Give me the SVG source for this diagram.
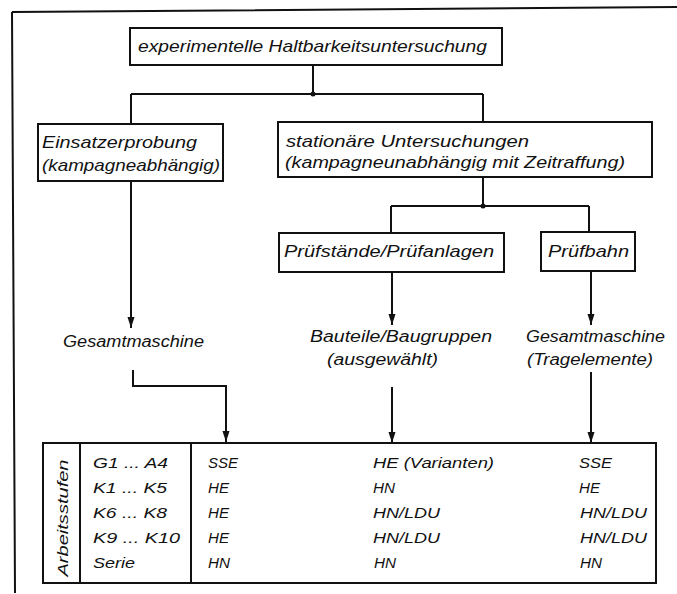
<svg xmlns="http://www.w3.org/2000/svg" width="677" height="594" viewBox="0 0 677 594">
<defs>
<style>
.t{font-family:"Liberation Sans","DejaVu Sans",sans-serif;font-style:italic;fill:#111;}
.b{font-size:17px;}
.m{font-size:16px;}
.s{font-size:15px;}
.box{fill:#fff;stroke:#111;stroke-width:2;}
.ln{fill:none;stroke:#111;stroke-width:2;}
.arr{marker-end:url(#ah);}
</style>
<marker id="ah" markerUnits="userSpaceOnUse" markerWidth="12" markerHeight="8" refX="11" refY="3.5" orient="auto">
<path d="M0,0 L11,3.5 L0,7 z" fill="#111"/>
</marker>
</defs>
<rect width="677" height="594" fill="#fff"/>
<g id="frame">
<path class="ln" d="M12,12 L677,7 M12,12 L15,593"/>
</g>
<g id="connectors">
<path class="ln" d="M313,65 V94 M131,94 H483 M131,94 V124 M483,94 V122"/>
<circle cx="313" cy="94" r="2.5" fill="#111"/>
<path class="ln arr" d="M131,181 V328"/>
<path class="ln arr" d="M133,370 V386 H226 V442"/>
<path class="ln" d="M483,177 V206 M391,206 H589 M391,206 V233 M589,206 V232"/>
<circle cx="483" cy="206" r="2.5" fill="#111"/>
<path class="ln arr" d="M392,272 V325"/>
<path class="ln arr" d="M591,271 V325"/>
<path class="ln arr" d="M392,387 V443"/>
<path class="ln arr" d="M591,372 V443"/>
</g>
<g id="n-top">
<rect class="box" x="130" y="28" width="372" height="37"/>
<text class="t b" x="138" y="52" textLength="349" lengthAdjust="spacingAndGlyphs">experimentelle Haltbarkeitsuntersuchung</text>
</g>
<g id="n-einsatz">
<rect class="box" x="38" y="124" width="185" height="57"/>
<text class="t b" x="42" y="148" textLength="155" lengthAdjust="spacingAndGlyphs">Einsatzerprobung</text>
<text class="t b" x="42" y="171" textLength="178" lengthAdjust="spacingAndGlyphs">(kampagneabhängig)</text>
</g>
<g id="n-stationaer">
<rect class="box" x="278" y="122" width="374" height="55"/>
<text class="t b" x="286" y="147" textLength="243" lengthAdjust="spacingAndGlyphs">stationäre Untersuchungen</text>
<text class="t b" x="285" y="168" textLength="340" lengthAdjust="spacingAndGlyphs">(kampagneunabhängig mit Zeitraffung)</text>
</g>
<g id="n-pruefstaende">
<rect class="box" x="279" y="233" width="225" height="39"/>
<text class="t b" x="284" y="257" textLength="210" lengthAdjust="spacingAndGlyphs">Prüfstände/Prüfanlagen</text>
</g>
<g id="n-pruefbahn">
<rect class="box" x="541" y="232" width="94" height="39"/>
<text class="t b" x="548" y="257" textLength="81" lengthAdjust="spacingAndGlyphs">Prüfbahn</text>
</g>
<g id="n-gesamt1">
<text class="t m" x="63" y="347" textLength="141" lengthAdjust="spacingAndGlyphs">Gesamtmaschine</text>
</g>
<g id="n-bauteile">
<text class="t m" x="310" y="342" textLength="182" lengthAdjust="spacingAndGlyphs">Bauteile/Baugruppen</text>
<text class="t m" x="327" y="365" textLength="111" lengthAdjust="spacingAndGlyphs">(ausgewählt)</text>
</g>
<g id="n-gesamt2">
<text class="t m" x="526" y="342" textLength="139" lengthAdjust="spacingAndGlyphs">Gesamtmaschine</text>
<text class="t m" x="527" y="365" textLength="126" lengthAdjust="spacingAndGlyphs">(Tragelemente)</text>
</g>
<g id="n-table">
<rect class="box" x="43" y="443" width="613" height="140"/>
<path class="ln" d="M80,443 V583 M191,443 V583"/>
<text class="t s" transform="translate(68,518) rotate(-90)" x="0" y="0" text-anchor="middle" textLength="117" lengthAdjust="spacingAndGlyphs">Arbeitsstufen</text>
<text class="t s" x="93" y="468" textLength="75" lengthAdjust="spacingAndGlyphs">G1 ... A4</text>
<text class="t s" x="93" y="493" textLength="74" lengthAdjust="spacingAndGlyphs">K1 ... K5</text>
<text class="t s" x="93" y="518" textLength="74" lengthAdjust="spacingAndGlyphs">K6 ... K8</text>
<text class="t s" x="93" y="543" textLength="87" lengthAdjust="spacingAndGlyphs">K9 ... K10</text>
<text class="t s" x="93" y="568" textLength="42" lengthAdjust="spacingAndGlyphs">Serie</text>
<text class="t s" x="208" y="468" textLength="30" lengthAdjust="spacingAndGlyphs">SSE</text>
<text class="t s" x="208" y="493" textLength="21" lengthAdjust="spacingAndGlyphs">HE</text>
<text class="t s" x="208" y="518" textLength="21" lengthAdjust="spacingAndGlyphs">HE</text>
<text class="t s" x="208" y="543" textLength="21" lengthAdjust="spacingAndGlyphs">HE</text>
<text class="t s" x="208" y="568" textLength="22" lengthAdjust="spacingAndGlyphs">HN</text>
<text class="t s" x="373" y="468" textLength="121" lengthAdjust="spacingAndGlyphs">HE (Varianten)</text>
<text class="t s" x="373" y="493" textLength="22" lengthAdjust="spacingAndGlyphs">HN</text>
<text class="t s" x="373" y="518" textLength="67" lengthAdjust="spacingAndGlyphs">HN/LDU</text>
<text class="t s" x="373" y="543" textLength="67" lengthAdjust="spacingAndGlyphs">HN/LDU</text>
<text class="t s" x="374" y="568" textLength="22" lengthAdjust="spacingAndGlyphs">HN</text>
<text class="t s" x="579" y="468" textLength="33" lengthAdjust="spacingAndGlyphs">SSE</text>
<text class="t s" x="579" y="493" textLength="21" lengthAdjust="spacingAndGlyphs">HE</text>
<text class="t s" x="580" y="518" textLength="67" lengthAdjust="spacingAndGlyphs">HN/LDU</text>
<text class="t s" x="580" y="543" textLength="67" lengthAdjust="spacingAndGlyphs">HN/LDU</text>
<text class="t s" x="580" y="568" textLength="22" lengthAdjust="spacingAndGlyphs">HN</text>
</g>
</svg>
